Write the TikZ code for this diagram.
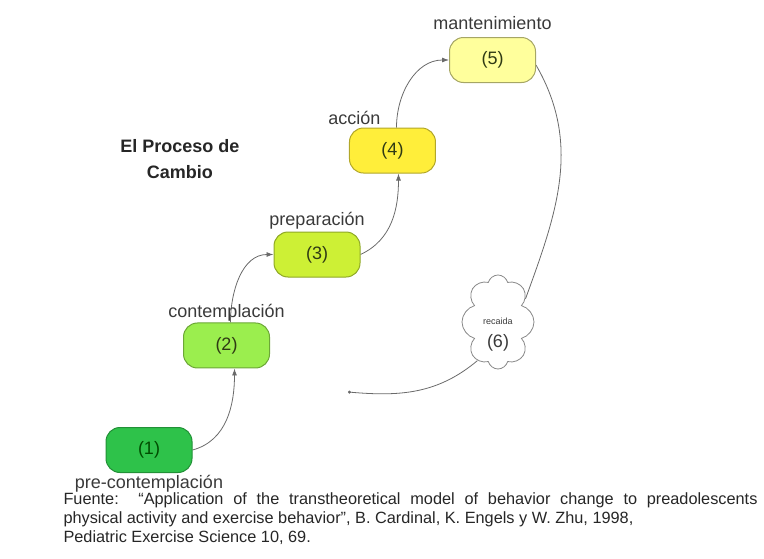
\documentclass[tikz,border=0pt]{standalone}
\usepackage{fontspec}
\setmainfont{Liberation Sans}
\usepackage{tikz}
\usetikzlibrary{arrows.meta,shapes.symbols}
\pgfdeclarelayer{bg}
\pgfsetlayers{bg,main}
\definecolor{stageone}{HTML}{2EC24A}
\definecolor{stagetwo}{HTML}{9BEE4E}
\definecolor{stagethree}{HTML}{CDF035}
\definecolor{stagefour}{HTML}{FFEE3A}
\definecolor{stagefive}{HTML}{FFFF9C}
\definecolor{labelgray}{HTML}{3A3A3A}
\definecolor{numtext}{HTML}{2F3A14}
\definecolor{linegray}{HTML}{6A6A6A}

\begin{document}
\begin{tikzpicture}[
        stage/.style={rectangle, rounded corners=14pt, minimum width=86pt,
                minimum height=45pt, line width=1pt, text=numtext,
                font=\fontsize{18}{20}\selectfont},
        every label/.style={text=labelgray, font=\fontsize{18}{20}\selectfont},
        conn/.style={draw=linegray, line width=0.8pt, -{Latex[length=7pt,width=5pt]}},
        endconn/.style={draw=linegray, line width=0.8pt, -{Circle[length=3pt]}}]
        \useasboundingbox (-13.426cm, -9.806cm) rectangle (13.426cm, 9.806cm);
        \node (v1) [stage, fill=stageone, draw=stageone!75!black, text=green!30!black,
                label={[label distance=-1pt]below:pre-contemplación}] at (-8.189cm, -6.010cm) {(1)};
        \node (v2) [stage, fill=stagetwo, draw=stagetwo!70!black,
                label={[label distance=-2pt]above:contemplación}] at (-5.465cm, -2.337cm) {(2)};
        \node (v3) [stage, fill=stagethree, draw=stagethree!70!black,
                label={[label distance=-1pt]above:preparación}] at (-2.284cm, 0.861cm) {(3)};
        \node (v4) [stage, fill=stagefour, draw=stagefour!70!black,
                label={[xshift=-38pt, label distance=-1pt]above:acción}] at (0.369cm, 4.516cm) {(4)};
        \node (v5) [stage, fill=stagefive, draw=stagefive!65!black,
                label={[label distance=4pt]above:mantenimiento}] at (3.884cm, 7.697cm) {(5)};
        \node (v6) [cloud, cloud puffs=8, aspect=0.78, draw=linegray!80, line width=0.8pt,
                minimum width=72pt, minimum height=94pt, inner sep=0pt,
                label={[yshift=-13pt, align=center]center:{\fontsize{9}{9}\selectfont recaida}\\[3pt]{\fontsize{18}{20}\selectfont (6)}}]
                at (4.077cm, -1.511cm) {};
        \coordinate (v7) at (-1.195cm, -3.971cm);
        \node (title) [align=center, text=black!85, font=\bfseries\fontsize{18}{26}\selectfont]
                at (-7.100cm, 4.218cm) {El Proceso de\\Cambio};
        \node (source) [anchor=north west, inner xsep=0pt, inner ysep=0pt, align=left,
                text=black!85, font=\fontsize{16.3}{19}\selectfont] at (-11.200cm, -7.520cm)
                {\makebox[694pt][s]{Fuente:\ \ “Application of the transtheoretical model of behavior change to preadolescents}\\
                physical activity and exercise behavior”, B. Cardinal, K. Engels y W. Zhu, 1998,\\
                Pediatric Exercise Science 10, 69.};
        \begin{pgfonlayer}{bg}
                \draw (v1.east) edge [conn, out=15, in=-90] ([xshift=8pt]v2.south);
                \draw ([xshift=4pt]v2.north) edge [conn, out=90, in=180] (v3.west);
                \draw (v3.east) edge [conn, out=25, in=-90] ([xshift=6pt]v4.south);
                \draw ([xshift=4pt]v4.north) edge [conn, out=90, in=180] (v5.west);
                \draw ([yshift=-5pt]v5.east) edge [draw=linegray, line width=0.8pt, out=-60, in=70] (v6.40);
                \draw (v6.-118) edge [endconn, out=-140, in=-5] (v7);
        \end{pgfonlayer}
\end{tikzpicture}
\end{document}
